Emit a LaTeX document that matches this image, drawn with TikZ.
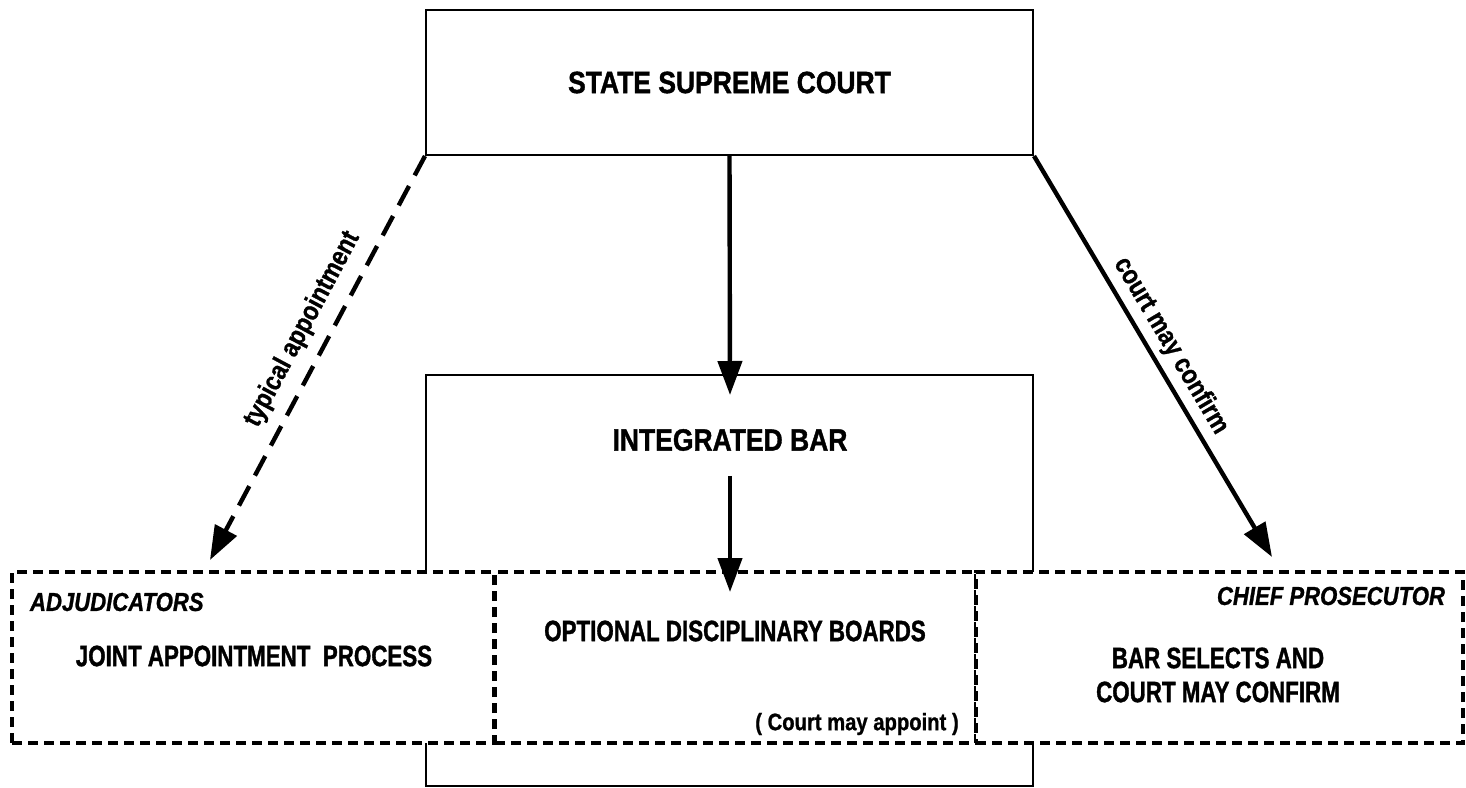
\documentclass[tikz,border=0pt]{standalone}
\usepackage{fontspec}
\setmainfont{Liberation Sans}
\newfontfamily\headfont[FakeStretch=0.86,BoldFeatures={FakeBold=1.2}]{Liberation Sans}
\newfontfamily\boxfont[FakeStretch=0.76,BoldFeatures={FakeBold=1.2}]{Liberation Sans}
\newfontfamily\tagfont[FakeStretch=0.85,BoldFeatures={FakeBold=1},BoldItalicFeatures={FakeBold=1}]{Liberation Sans}
\usetikzlibrary{arrows.meta}

\begin{document}
\begin{tikzpicture}[x=0.5pt,y=-0.5pt,
  solidbox/.style={draw,line width=1pt,inner sep=0pt},
  dashbox/.style={draw,fill=white,line width=1.6pt,dash pattern=on 5pt off 3pt,
    inner sep=0pt,minimum height=85.5pt},
  headtext/.style={font=\headfont\bfseries\fontsize{15.4}{18}\selectfont},
  boxtext/.style={font=\boxfont\bfseries\fontsize{14.7}{17}\selectfont,align=center},
  tagtext/.style={font=\tagfont\bfseries\itshape\fontsize{13}{15}\selectfont},
  linktext/.style={font=\tagfont\bfseries\fontsize{13.5}{15}\selectfont,inner sep=2pt},
  link/.style={line width=2.2pt,-{Triangle[length=17pt,width=12pt]}},
]
  % 边界
  \useasboundingbox (0,0) rectangle (1466,787);

  % 法院与律师协会
  \node[solidbox,headtext,minimum width=303.5pt,minimum height=72.5pt] (court) at (729.5,82.5) {STATE SUPREME COURT};
  \node[solidbox,minimum width=303.5pt,minimum height=205.5pt] (bar) at (729.5,580.5) {};
  \node[headtext] (bartitle) at (730,440) {INTEGRATED BAR};

  % 虚线方框
  \node[dashbox,minimum width=241pt] (adjud) at (253,657.5) {};
  \node[dashbox,minimum width=240.5pt] (boards) at (735.5,657.5) {};
  \node[dashbox,minimum width=243.5pt] (prosec) at (1219.5,657.5) {};

  % 方框里的文字
  \node[tagtext,anchor=west] (adjudtag) at (23,602) {ADJUDICATORS};
  \node[boxtext] (joint) at (254,656) {JOINT APPOINTMENT\ \ PROCESS};
  \node[boxtext] (optional) at (735,631) {OPTIONAL DISCIPLINARY BOARDS};
  \node[font=\tagfont\bfseries\fontsize{11.9}{14}\selectfont] (mayappoint) at (857,724) {( Court may appoint )};
  \node[tagtext,anchor=east] (prosectag) at (1452,596) {CHIEF PROSECUTOR};
  \node[boxtext] (barselects) at (1218,675) {BAR SELECTS AND\\COURT MAY CONFIRM};

  % 箭头
  \coordinate (bartip) at (730,395);
  \coordinate (boardtip) at (730,592);
  \coordinate (adjtip) at (210,560);
  \coordinate (prostip) at (1272,557);
  \draw[link] (court.south) -- (bartip);
  \draw[link,shorten <=9pt] (bartitle) -- (boardtip);
  \draw[link,dash pattern=on 11pt off 6pt] (court.south west) -- node[linktext,sloped,above=4pt,pos=0.46] {typical appointment} (adjtip);
  \draw[link] (court.south east) -- node[linktext,sloped,above=1pt,pos=0.5] {court may confirm} (prostip);

\end{tikzpicture}
\end{document}
